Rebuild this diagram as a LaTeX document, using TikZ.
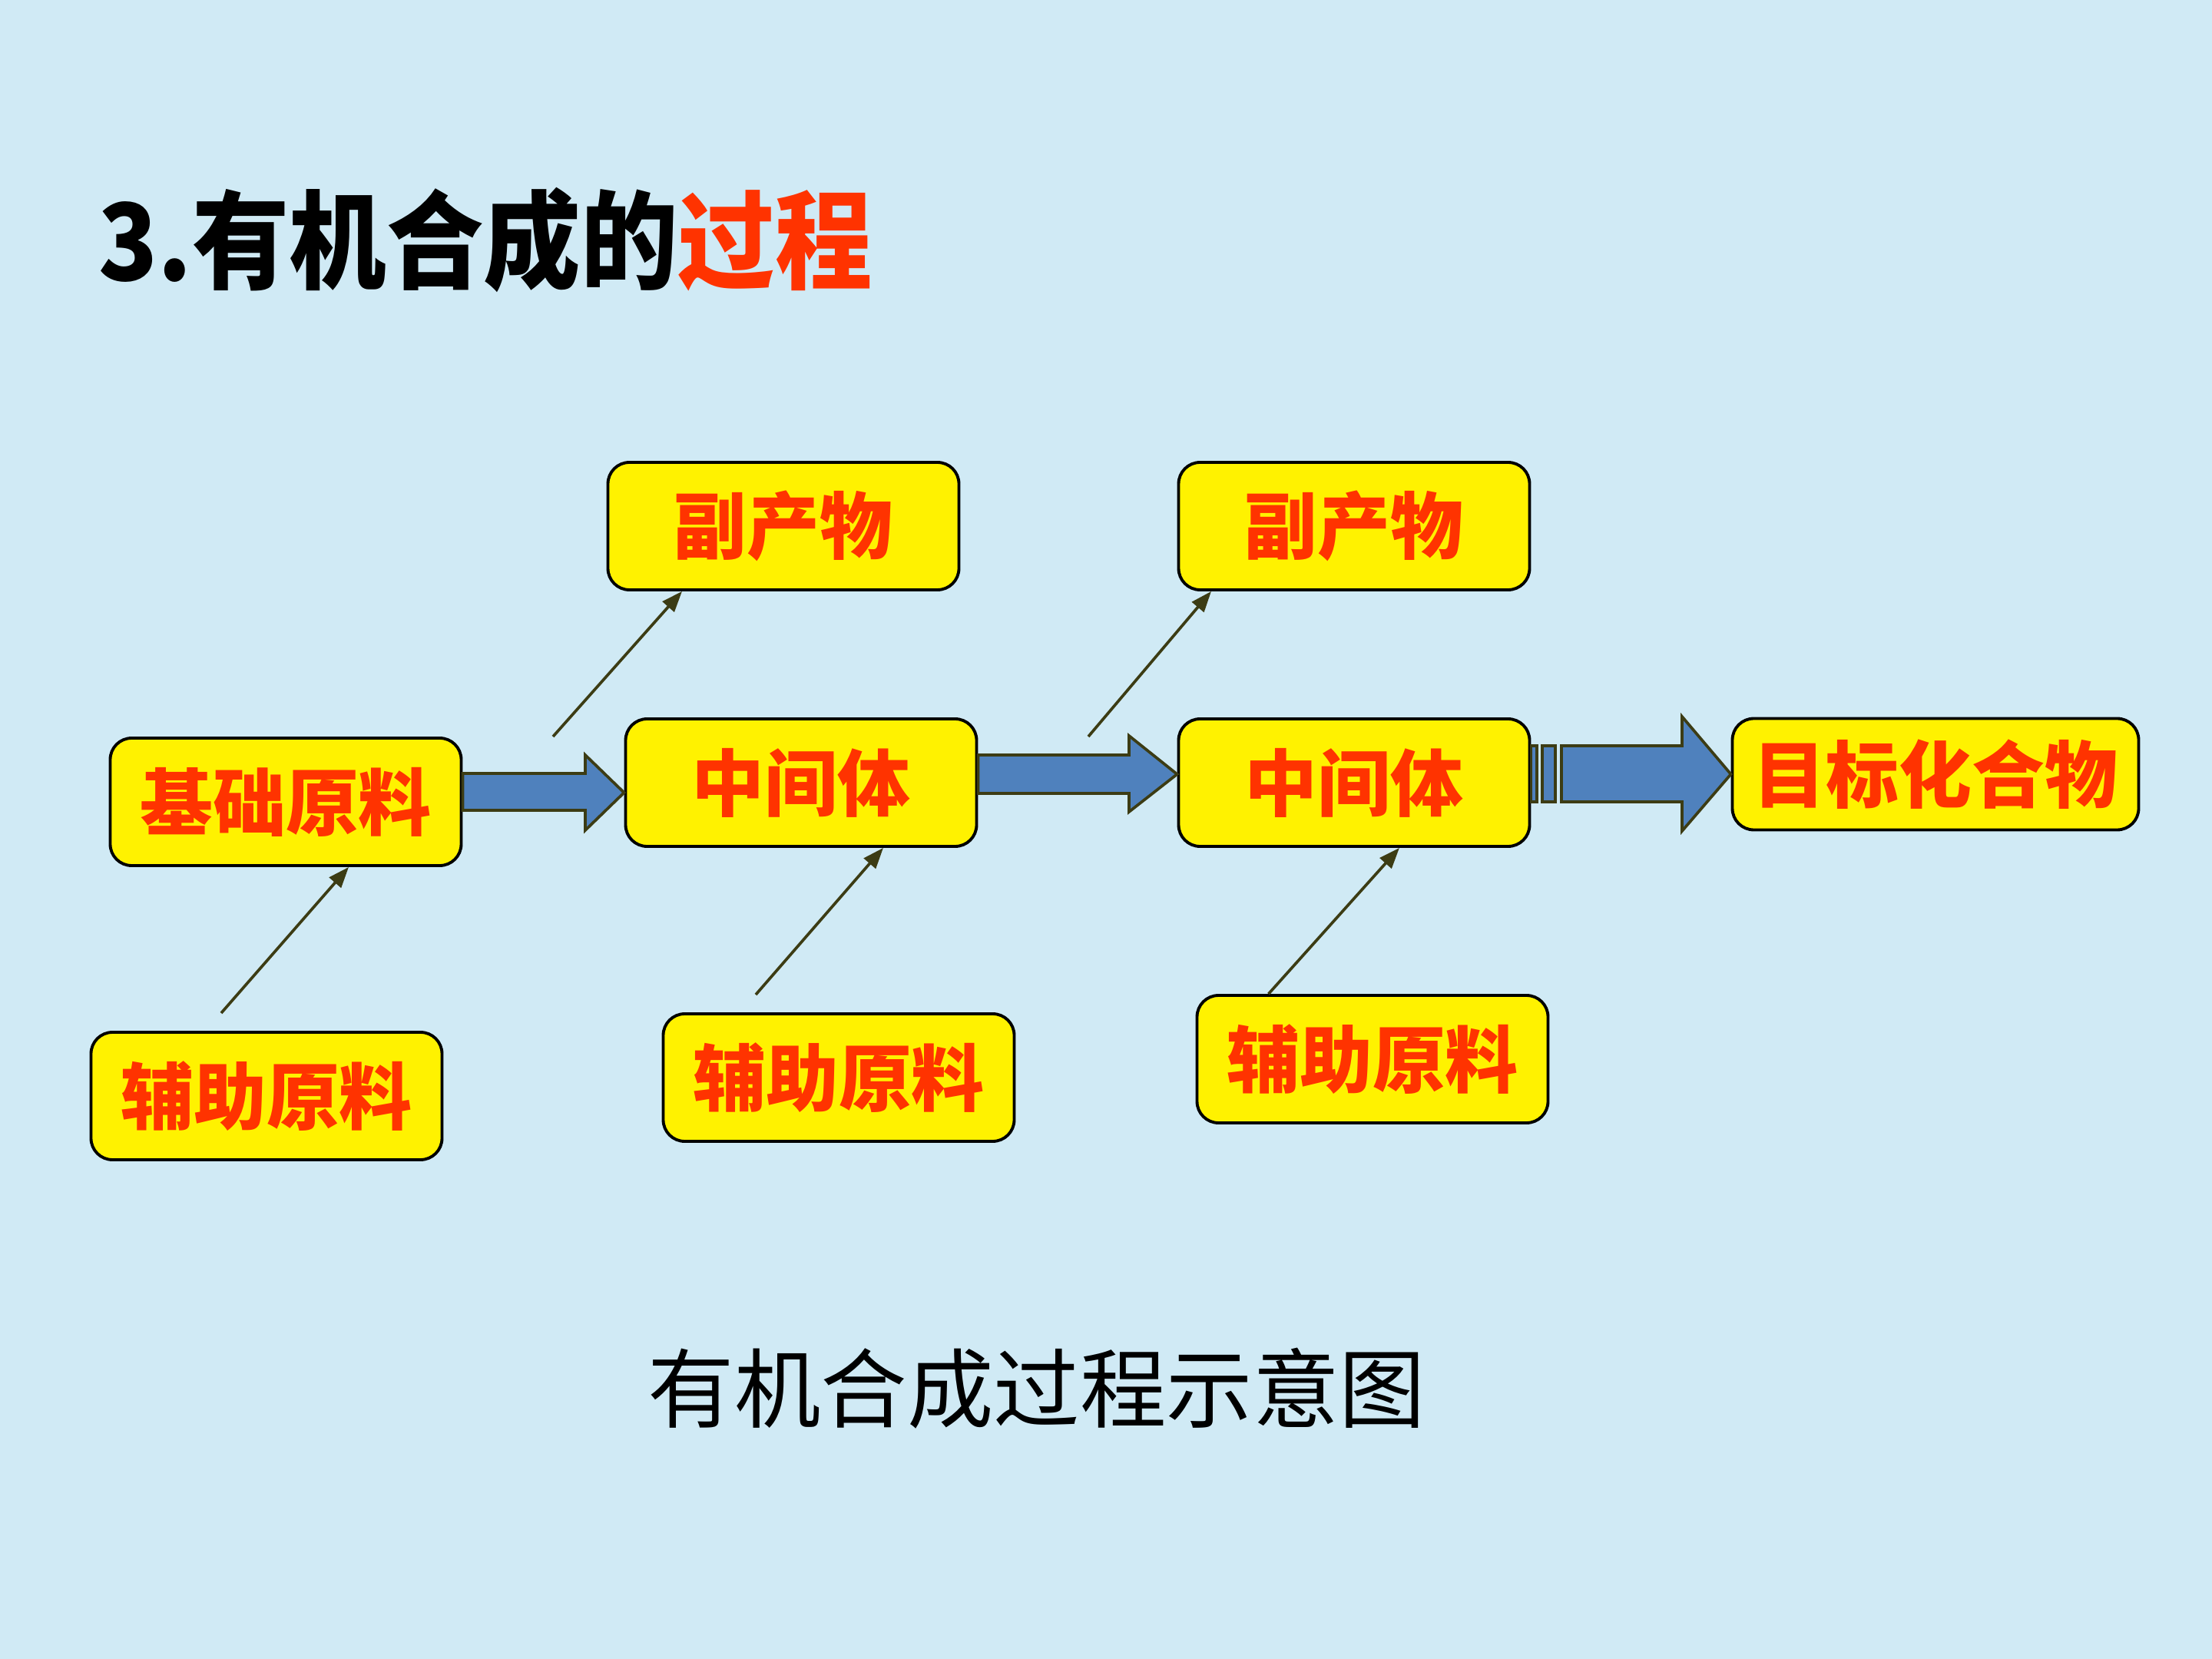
\documentclass[tikz,border=0pt]{standalone}
\usepackage{fontspec}
\usepackage{graphicx}
\newfontfamily\cjk{Noto Sans CJK SC}
\usetikzlibrary{arrows.meta,calc}

\definecolor{bgblue}{RGB}{208,234,245}
\definecolor{boxred}{RGB}{255,51,0}
\definecolor{olive}{RGB}{60,60,20}
\definecolor{steel}{RGB}{79,129,189}

\begin{document}
\begin{tikzpicture}[thinarr/.style={-{Triangle[length=0.27cm,width=0.2cm]},draw=olive,line width=1.05pt},
                    fatarr/.style={fill=steel,draw=olive,line width=1.05pt,line join=miter}]
        \tikzstyle{box}=[draw=black,fill=yellow,line width=1.1pt,rounded corners=0.28cm,
                         minimum width=4.57cm,minimum height=1.66cm,inner sep=0pt,
                         text=boxred,font=\cjk\bfseries\fontsize{27}{30}\selectfont]

        \fill[bgblue] (0,0) rectangle (28.8,-21.6);
        \useasboundingbox (0,0) rectangle (28.8,-21.6);

        \node[anchor=west,inner sep=0pt] (title) at (1.28,-3.12)
            {\scalebox{1}[1.1]{\cjk\bfseries\fontsize{36}{40}\selectfont 3.有机合成的\textcolor{boxred}{过程}}};

        \node[box] (fcw1)   at (10.20,-6.85)  {副产物};
        \node[box] (fcw2)   at (17.63,-6.85)  {副产物};
        \node[box] (jichu)  at (3.72,-10.44)  {基础原料};
        \node[box] (zj1)    at (10.43,-10.19) {中间体};
        \node[box] (zj2)    at (17.63,-10.19) {中间体};
        \node[box,minimum width=5.29cm,minimum height=1.45cm] (mubiao) at (25.20,-10.08) {目标化合物};
        \node[box] (fz1)    at (3.47,-14.27)  {辅助原料};
        \node[box] (fz2)    at (10.92,-14.03) {辅助原料};
        \node[box] (fz3)    at (17.87,-13.79) {辅助原料};

        \node[font=\cjk\fontsize{32}{36}\selectfont] (cap) at (13.50,-18.08) {有机合成过程示意图};

        % fat arrows
        \draw[fatarr] (jichu.east |- 0,-10.07) -- (7.62,-10.07) -- (7.62,-9.83) -- (zj1.west |- 0,-10.32)
                      -- (7.62,-10.81) -- (7.62,-10.55) -- (jichu.east |- 0,-10.55) -- cycle;
        \draw[fatarr] (zj1.east |- 0,-9.83) -- (14.70,-9.83) -- (14.70,-9.58) -- (zj2.west |- 0,-10.08)
                      -- (14.70,-10.57) -- (14.70,-10.33) -- (zj1.east |- 0,-10.33) -- cycle;
        \draw[fatarr] (zj2.east |- 0,-9.71) rectangle (20.01,-10.44);
        \draw[fatarr] (20.08,-9.71) rectangle (20.25,-10.44);
        \draw[fatarr] (20.33,-9.71) -- (21.90,-9.71) -- (21.90,-9.33) -- (mubiao.west |- 0,-10.08)
                      -- (21.90,-10.82) -- (21.90,-10.44) -- (20.33,-10.44) -- cycle;

        % thin arrows
        \coordinate (t1) at (2.88,-13.19);
        \coordinate (t2) at (9.84,-12.95);
        \coordinate (u1) at (7.20,-9.59);
        \coordinate (u2) at (14.17,-9.59);
        \draw[thinarr] (t1) -- ($(jichu.south)+(0.82,0)$);
        \draw[thinarr] (t2) -- ($(zj1.south)+(1.07,0)$);
        \draw[thinarr] ($(fz3.north west)+(0.95,0)$) -- ($(zj2.south)+(0.59,0)$);
        \draw[thinarr] (u1) -- ($(fcw1.south)+(-1.32,0)$);
        \draw[thinarr] (u2) -- ($(fcw2.south)+(-1.86,0)$);
\end{tikzpicture}
\end{document}
